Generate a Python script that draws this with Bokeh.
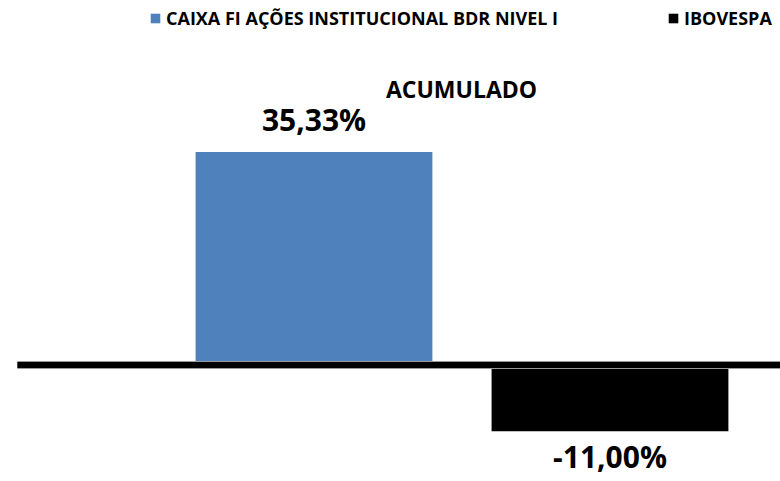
from bokeh.plotting import figure
from bokeh.models import Range1d, Legend, LegendItem, Label, ColumnDataSource
from bokeh.core.properties import value
from bokeh.embed import file_html
from bokeh.resources import INLINE

# ---- data ----
series = ["CAIXA FI AÇÕES INSTITUCIONAL BDR NIVEL I", "IBOVESPA"]
values = [35.33, -11.00]
labels = ["35,33%", "-11,00%"]
colors = ["#4F81BD", "#000000"]
title_text = "ACUMULADO"

FONT = "Open Sans"

p = figure(width=780, height=481, output_backend="svg", toolbar_location=None,
           x_range=Range1d(-0.559, 2.076), y_range=Range1d(-19.32, 60.45),
           min_border=0, min_border_left=0, min_border_right=0,
           min_border_top=0, min_border_bottom=0)
p.axis.visible = False
p.grid.visible = False
p.outline_line_color = None
p.background_fill_color = "white"
p.border_fill_color = "white"

xs = [i + 0.5 for i in range(len(series))]

renderers = []
for i, (s, v, c) in enumerate(zip(series, values, colors)):
    src = ColumnDataSource(dict(x=[xs[i]], top=[v]))
    r = p.vbar(x="x", top="top", bottom=0, width=0.8, source=src,
               fill_color=c, line_color=None)
    renderers.append(r)

# zero line
p.segment(x0=[-0.502], y0=[0], x1=[2.076], y1=[0], line_color="#9a9a9a", line_width=8)
p.segment(x0=[-0.502], y0=[0], x1=[2.076], y1=[0], line_color="black", line_width=6)

# value labels
offs = [-32 if v >= 0 else 25 for v in values]
lsrc = ColumnDataSource(dict(x=xs, y=values, t=labels, off=offs))
p.text(x="x", y="y", text="t", source=lsrc, y_offset="off",
       text_align="center", text_baseline="alphabetic",
       text_font=value(FONT), text_font_style="bold", text_font_size="30px",
       text_color="black")

# title
p.add_layout(Label(x=461, y=393, x_units="screen", y_units="screen",
                   text=title_text, text_align="center", text_baseline="middle",
                   text_font=FONT, text_font_style="bold", text_font_size="23px",
                   text_color="black"))

# legends
for i, (s, r) in enumerate(zip(series, renderers)):
    lx = [149, 667][i]
    leg = Legend(items=[LegendItem(label=s, renderers=[r])], location=(lx, 451),
                 orientation="horizontal", padding=0, margin=0, spacing=0,
                 border_line_alpha=0, background_fill_alpha=0,
                 glyph_width=12, glyph_height=12, label_standoff=5,
                 label_text_font=FONT, label_text_font_style="bold",
                 label_text_font_size="18px", label_height=20, label_text_color="black")
    p.add_layout(leg, "center")

open("out.html", "w").write(file_html(p, INLINE))
